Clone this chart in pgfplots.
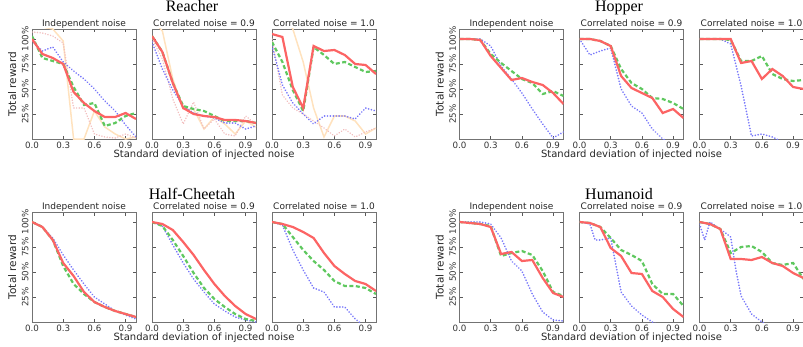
\documentclass[border=0pt]{standalone}
\usepackage{fontspec}
\setmainfont{DejaVu Sans}
\newfontfamily\serifttl{Liberation Serif}
\usepackage{pgfplots}
\pgfplotsset{compat=1.18}
\definecolor{cred}{RGB}{252,100,100}
\definecolor{cgreen}{RGB}{95,200,95}
\definecolor{cblue}{RGB}{120,120,250}
\definecolor{corange}{RGB}{255,226,190}
\definecolor{cpink}{RGB}{242,190,190}
\pgfplotsset{
  sub/.style={scale only axis, width=104pt, height=110pt, anchor=south west,
    xmin=0, xmax=1, ymin=0, ymax=110,
    xtick={0,0.3,0.6,0.9}, xticklabels={0.0,0.3,0.6,0.9},
    ytick={25,50,75,100}, yticklabels={},
    tick align=inside, major tick length=3.5pt,
    tick style={black!65, line width=0.6pt},
    axis line style={black!55, line width=0.8pt},
    ticklabel style={font=\fontsize{8.7}{9}\selectfont, text=black!80},
    title style={font=\fontsize{9}{9.5}\selectfont, text=black!85, at={(0.5,1)}, anchor=base, yshift=-3.5pt},
    /pgf/number format/assume math mode=true},
  first/.style={yticklabels={25\%,50\%,75\%,100\%},
    yticklabel style={rotate=90, anchor=south},
    ylabel={Total reward},
    ylabel style={font=\fontsize{10.5}{11}\selectfont, text=black!85, at={(axis description cs:-0.19,0.5)}, anchor=center}},
  mid/.style={xlabel={Standard deviation of injected noise},
    xlabel style={font=\fontsize{10}{11}\selectfont, text=black!85, at={(axis description cs:0.5,-0.14)}, anchor=center}},
  r/.style={color=cred, line width=2.2pt},
  g/.style={color=cgreen, line width=2.2pt, dash pattern=on 4pt off 2.5pt},
  b/.style={color=cblue, line width=1.8pt, dash pattern=on 0.1pt off 2.8pt, line cap=round},
  o/.style={color=corange, line width=1.5pt},
  p/.style={color=cpink, line width=1.6pt, dash pattern=on 0.1pt off 2.6pt, line cap=round},
}
\begin{document}
\begin{tikzpicture}
\useasboundingbox (0pt,0pt) rectangle (803pt,346pt);
% ===== Reacher =====
\begin{axis}[sub, first, at={(32pt,207pt)}, title={Independent noise}]
\addplot[o] coordinates {(0,115)(0.1,112)(0.2,110)(0.3,98)(0.4,0)(0.5,0)(0.6,28)(0.7,12)(0.8,5)(0.9,0)(1,2)};
\addplot[p] coordinates {(0,107)(0.1,106)(0.2,103)(0.3,96)(0.4,31)(0.5,31)(0.6,5)(0.7,2)(0.8,1)(0.9,5)(1,1)};
\addplot[b] coordinates {(0,98)(0.1,88)(0.2,92)(0.3,77)(0.4,68)(0.5,60)(0.6,50)(0.7,38)(0.8,28)(0.9,14)(1,2)};
\addplot[g] coordinates {(0,103)(0.1,81)(0.2,78)(0.3,75)(0.4,52)(0.5,34)(0.6,36)(0.7,13)(0.8,16)(0.9,23)(1,26)};
\addplot[r] coordinates {(0,100)(0.1,85)(0.2,81)(0.3,75)(0.4,47)(0.5,36)(0.6,28)(0.7,22)(0.8,22)(0.9,26)(1,20)};
\end{axis}
\begin{axis}[sub, mid, at={(152pt,207pt)}, title={Correlated noise = 0.9}]
\addplot[o] coordinates {(0,120)(0.1,108)(0.2,60)(0.3,30)(0.4,30)(0.5,10)(0.6,22)(0.7,15)(0.8,5)(0.9,18)(1,12)};
\addplot[p] coordinates {(0,100)(0.1,80)(0.2,40)(0.3,15)(0.4,37)(0.5,10)(0.6,20)(0.7,5)(0.8,3)(0.9,23)(1,15)};
\addplot[b] coordinates {(0,97)(0.1,70)(0.2,49)(0.3,33)(0.4,26)(0.5,23)(0.6,21)(0.7,16)(0.8,16)(0.9,10)(1,13)};
\addplot[g] coordinates {(0,103)(0.1,87)(0.2,56)(0.3,33)(0.4,30)(0.5,28)(0.6,23)(0.7,18)(0.8,18)(0.9,18)(1,16)};
\addplot[r] coordinates {(0,103)(0.1,87)(0.2,56)(0.3,31)(0.4,25)(0.5,23)(0.6,22)(0.7,19)(0.8,19)(0.9,18)(1,16)};
\end{axis}
\begin{axis}[sub, at={(272pt,207pt)}, title={Correlated noise = 1.0}]
\addplot[o] coordinates {(0,140)(0.1,125)(0.2,110)(0.3,77)(0.4,31)(0.5,2)(0.6,23)(0.7,23)(0.8,18)(0.9,5)(1,11)};
\addplot[p] coordinates {(0,100)(0.1,44)(0.2,31)(0.3,25)(0.4,18)(0.5,11)(0.6,3)(0.7,10)(0.8,2)(0.9,7)(1,11)};
\addplot[b] coordinates {(0,93)(0.1,54)(0.2,36)(0.3,25)(0.4,15)(0.5,23)(0.6,23)(0.7,23)(0.8,20)(0.9,31)(1,28)};
\addplot[g] coordinates {(0,97)(0.1,77)(0.2,49)(0.3,28)(0.4,92)(0.5,84)(0.6,75)(0.7,77)(0.8,72)(0.9,67)(1,68)};
\addplot[r] coordinates {(0,105)(0.1,102)(0.2,52)(0.3,31)(0.4,93)(0.5,88)(0.6,89)(0.7,84)(0.8,75)(0.9,74)(1,65)};
\end{axis}
% ===== Hopper =====
\begin{axis}[sub, first, at={(459.5pt,207pt)}, title={Independent noise}]
\addplot[b] coordinates {(0,100)(0.1,100)(0.2,100)(0.3,93)(0.4,73)(0.5,60)(0.6,46)(0.7,30)(0.8,15)(0.9,1)(1,7)};
\addplot[g] coordinates {(0,100)(0.1,100)(0.2,99)(0.3,85)(0.4,76)(0.5,68)(0.6,60)(0.7,56)(0.8,45)(0.9,48)(1,43)};
\addplot[r] coordinates {(0,100)(0.1,100)(0.2,99)(0.3,83)(0.4,71)(0.5,59)(0.6,61)(0.7,57)(0.8,54)(0.9,46)(1,35)};
\end{axis}
\begin{axis}[sub, mid, at={(579.5pt,207pt)}, title={Correlated noise = 0.9}]
\addplot[b] coordinates {(0,100)(0.1,84)(0.2,88)(0.3,91)(0.4,50)(0.5,33)(0.6,26)(0.7,10)(0.8,0)(0.9,-5)(1,-5)};
\addplot[g] coordinates {(0,100)(0.1,100)(0.2,98)(0.3,93)(0.4,70)(0.5,56)(0.6,50)(0.7,41)(0.8,40)(0.9,36)(1,30)};
\addplot[r] coordinates {(0,100)(0.1,100)(0.2,98)(0.3,93)(0.4,63)(0.5,51)(0.6,46)(0.7,41)(0.8,26)(0.9,30)(1,21)};
\end{axis}
\begin{axis}[sub, at={(699.5pt,207pt)}, title={Correlated noise = 1.0}]
\addplot[b] coordinates {(0,100)(0.1,100)(0.2,100)(0.3,95)(0.4,53)(0.5,3)(0.6,5)(0.7,2)(0.8,-3)(0.9,-5)(1,-5)};
\addplot[g] coordinates {(0,100)(0.1,100)(0.2,100)(0.3,99)(0.4,78)(0.5,78)(0.6,83)(0.7,65)(0.8,60)(0.9,58)(1,59)};
\addplot[r] coordinates {(0,100)(0.1,100)(0.2,100)(0.3,100)(0.4,76)(0.5,78)(0.6,60)(0.7,70)(0.8,63)(0.9,52)(1,50)};
\end{axis}
% ===== Half-Cheetah =====
\begin{axis}[sub, first, at={(32pt,24pt)}, title={Independent noise}]
\addplot[b] coordinates {(0,100)(0.1,95)(0.2,84)(0.3,67)(0.4,52)(0.5,38)(0.6,25)(0.7,18)(0.8,11)(0.9,7)(1,3)};
\addplot[g] coordinates {(0,100)(0.1,95)(0.2,82)(0.3,56)(0.4,38)(0.5,28)(0.6,20)(0.7,15)(0.8,11)(0.9,8)(1,5)};
\addplot[r] coordinates {(0,100)(0.1,95)(0.2,82)(0.3,59)(0.4,46)(0.5,30)(0.6,20)(0.7,15)(0.8,11)(0.9,8)(1,5)};
\end{axis}
\begin{axis}[sub, mid, at={(152pt,24pt)}, title={Correlated noise = 0.9}]
\addplot[b] coordinates {(0,100)(0.1,96)(0.2,77)(0.3,59)(0.4,43)(0.5,30)(0.6,18)(0.7,11)(0.8,5)(0.9,2)(1,0)};
\addplot[g] coordinates {(0,100)(0.1,96)(0.2,82)(0.3,66)(0.4,49)(0.5,34)(0.6,23)(0.7,15)(0.8,8)(0.9,3)(1,1)};
\addplot[r] coordinates {(0,100)(0.1,98)(0.2,92)(0.3,80)(0.4,67)(0.5,52)(0.6,38)(0.7,26)(0.8,16)(0.9,8)(1,3)};
\end{axis}
\begin{axis}[sub, at={(272pt,24pt)}, title={Correlated noise = 1.0}]
\addplot[b] coordinates {(0,100)(0.1,97)(0.2,72)(0.3,52)(0.4,34)(0.5,30)(0.6,15)(0.7,15)(0.8,3)(0.9,-5)(1,-10)};
\addplot[g] coordinates {(0,100)(0.1,98)(0.2,85)(0.3,72)(0.4,61)(0.5,52)(0.6,41)(0.7,36)(0.8,36)(0.9,34)(1,28)};
\addplot[r] coordinates {(0,100)(0.1,98)(0.2,95)(0.3,90)(0.4,84)(0.5,69)(0.6,56)(0.7,48)(0.8,41)(0.9,38)(1,31)};
\end{axis}
% ===== Humanoid =====
\begin{axis}[sub, first, at={(459.5pt,24pt)}, title={Independent noise}]
\addplot[b] coordinates {(0,100)(0.1,100)(0.2,100)(0.3,98)(0.4,84)(0.5,61)(0.6,51)(0.7,28)(0.8,10)(0.9,2)(1,1)};
\addplot[g] coordinates {(0,100)(0.1,99)(0.2,98)(0.3,96)(0.4,66)(0.5,69)(0.6,71)(0.7,67)(0.8,51)(0.9,30)(1,26)};
\addplot[r] coordinates {(0,100)(0.1,99)(0.2,98)(0.3,95)(0.4,68)(0.5,70)(0.6,61)(0.7,62)(0.8,44)(0.9,29)(1,25)};
\end{axis}
\begin{axis}[sub, mid, at={(579.5pt,24pt)}, title={Correlated noise = 0.9}]
\addplot[b] coordinates {(0,100)(0.1,98)(0.15,82)(0.2,82)(0.3,84)(0.4,30)(0.5,16)(0.6,7)(0.7,0)(0.8,-5)(0.9,-5)(1,-5)};
\addplot[g] coordinates {(0,100)(0.1,99)(0.2,95)(0.3,84)(0.4,72)(0.5,67)(0.6,61)(0.7,38)(0.8,28)(0.9,28)(1,16)};
\addplot[r] coordinates {(0,100)(0.1,99)(0.2,95)(0.3,74)(0.4,66)(0.5,49)(0.6,48)(0.7,31)(0.8,25)(0.9,13)(1,5)};
\end{axis}
\begin{axis}[sub, at={(699.5pt,24pt)}, title={Correlated noise = 1.0}]
\addplot[b] coordinates {(0,98)(0.05,82)(0.1,100)(0.2,93)(0.3,85)(0.35,52)(0.4,26)(0.5,8)(0.6,0)(0.7,-5)(1,-5)};
\addplot[g] coordinates {(0,100)(0.1,98)(0.2,93)(0.3,69)(0.4,75)(0.5,76)(0.6,70)(0.7,59)(0.8,57)(0.9,59)(1,43)};
\addplot[r] coordinates {(0,100)(0.1,98)(0.2,93)(0.3,63)(0.4,63)(0.5,62)(0.6,65)(0.7,59)(0.8,56)(0.9,49)(1,44)};
\end{axis}
% group titles
\node[font=\serifttl\fontsize{16}{18}\selectfont, anchor=base] at (192pt,334.5pt) {Reacher};
\node[font=\serifttl\fontsize{16}{18}\selectfont, anchor=base] at (619pt,334.5pt) {Hopper};
\node[font=\serifttl\fontsize{16}{18}\selectfont, anchor=base] at (192pt,147pt) {Half-Cheetah};
\node[font=\serifttl\fontsize{16}{18}\selectfont, anchor=base] at (619pt,147pt) {Humanoid};
\end{tikzpicture}
\end{document}
